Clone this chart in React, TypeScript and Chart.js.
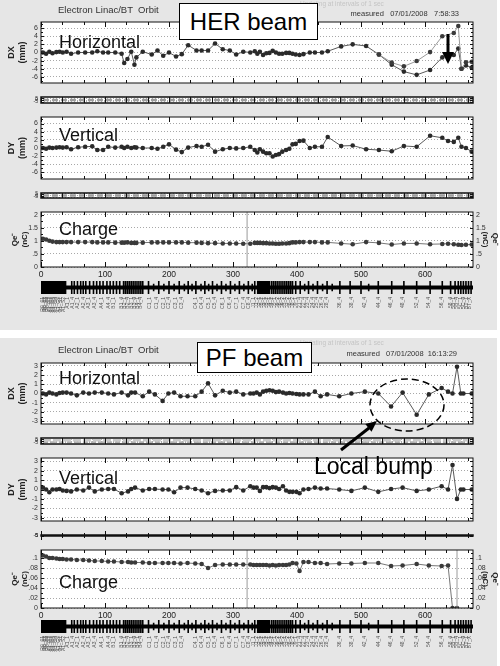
import React, { useEffect, useRef } from "react";
import { Chart, registerables } from "chart.js";
Chart.register(...registerables);

const FONT = "'Liberation Sans', Arial, Helvetica, sans-serif";
const W = 500;
const X_MAX = 675;
const PLOT_RIGHT = 473;

// ---------------- HER beam data ----------------
const HER_S = [3, 8, 13, 18, 24, 29, 34, 40, 47, 58, 69, 80, 88, 97, 105, 116, 126, 130, 135, 141, 146, 149, 159, 173, 182, 191, 200, 211, 220, 230, 243, 251, 261, 272, 284, 295, 305, 316, 327, 334, 338, 342, 347, 352, 357, 362, 367, 372, 377, 383, 388, 393, 398, 404, 410, 420, 428, 439, 448, 469, 487, 508, 528, 548, 567, 587, 608, 627, 636, 645, 652, 657, 664, 673];
const HER_DX = [0, -0.3, 0.2, -0.2, 0.1, 0.2, 0, 0.2, -0.3, 0, 0, 0, 0.3, 0, 0, 0, -0.3, -2.6, -1.6, 0.2, -3.0, -1.2, 0.2, -0.5, 0.5, -0.8, 0, -1.0, -0.4, 1.8, 0.5, 0.5, 0.5, 2.2, 0.8, 0.5, -0.5, 0.2, 0, 0.3, -0.3, 0.2, -0.6, -0.2, -0.1, 0.4, 0, -0.3, -0.3, -0.1, -0.1, -0.3, -0.5, -0.6, -0.4, 0, 0, 0, 0.3, 1.5, 2.0, 1.6, -0.5, -3.0, -4.7, -5.5, -4.3, -1.2, -0.3, -0.6, 1.0, -4.0, -3.2, -3.7];
const HER_DX_ALT_S = [528, 548, 567, 587, 608, 627, 645, 652, 657, 664, 673];
const HER_DX_ALT = [-0.5, -2.5, -3.4, -2.1, 0.1, 4.0, 4.8, 6.5, -4.0, -2.4, -2.3];
const HER_DY = [0, -0.2, 0.1, 0, 0.1, 0.2, 0.1, 0.2, -0.3, 0.2, 0.3, 0.4, -0.5, -0.5, 0.3, 0.1, 0.3, 0, 0.3, 0, 0.2, 0.1, 0, 0, -0.2, 0.3, 0.9, -0.4, -1.0, 0.1, 0.5, 0.3, 0.8, -0.9, -0.3, 0, -0.1, 0, 0.3, -0.5, -1.1, -0.3, -0.9, -1.3, -1.3, -2.1, -1.7, -1.5, -0.9, -0.5, -0.2, 0.9, 1.0, 1.7, 1.8, 0, 0.3, 0.3, 2.7, 0.5, 0.6, -0.3, -0.5, -0.8, 0.5, 0.3, 3.0, 2.5, 1.7, 1.5, 2.5, 0.3, 0, -0.9];
const HER_Q = [1.08, 1.05, 1.0, 0.97, 0.95, 0.95, 0.95, 0.95, 0.95, 0.95, 0.95, 0.95, 0.94, 0.94, 0.94, 0.93, 0.93, 0.93, 0.94, 0.92, 0.92, 0.92, 0.93, 0.94, 0.94, 0.94, 0.94, 0.94, 0.94, 0.93, 0.93, 0.92, 0.91, 0.91, 0.9, 0.9, 0.9, 0.89, 0.89, 0.92, 0.92, 0.92, 0.91, 0.91, 0.9, 0.9, 0.89, 0.89, 0.9, 0.9, 0.91, 0.94, 0.94, 0.95, 0.95, 0.95, 0.95, 0.94, 0.94, 0.9, 0.87, 0.95, 0.92, 0.86, 0.9, 0.9, 0.87, 0.88, 0.89, 0.87, 0.85, 0.84, 0.85, 0.86];

// ---------------- PF beam data ----------------
const PF_S = [3, 8, 13, 18, 24, 29, 34, 40, 47, 56, 66, 75, 84, 95, 105, 114, 126, 136, 141, 147, 159, 169, 178, 190, 199, 208, 218, 229, 241, 251, 261, 272, 284, 295, 305, 316, 327, 332, 337, 342, 347, 352, 357, 362, 367, 372, 378, 383, 388, 393, 399, 404, 410, 418, 428, 437, 447, 466, 485, 506, 527, 547, 565, 587, 606, 626, 636, 643, 650, 656, 660, 673];
const PF_DX = [0, -0.1, 0.1, 0, -0.1, 0.05, 0.1, 0.1, 0, -0.2, 0.1, 0, 0.1, 0.1, 0, -0.1, 0.1, -0.2, 0.1, 0.1, -0.3, 0.2, -0.1, -0.8, 0, 0.1, -0.3, -0.3, -0.3, 0.2, 1.1, -0.2, 0.3, 0.1, 0.2, -0.1, 0, 0, 0.1, -0.1, 0.2, 0.3, 0.35, 0.3, 0.15, 0.2, 0.1, 0, 0.05, 0, -0.05, -0.1, -0.1, -0.1, 0.2, -0.3, -0.1, -0.3, 0, 0.2, 0, -1.4, 0.1, -2.3, -0.1, 0.6, 0.2, 0, 2.9, 0, 0, 0];
const PF_DY = [0.2, 0, -0.3, 0, 0, 0.05, -0.1, -0.15, -0.2, 0, -0.1, 0.2, -0.2, 0, 0.05, 0.05, -0.4, -0.2, 0.05, 0.2, -0.1, 0.05, 0.05, 0, 0, -0.3, 0.2, 0.2, 0.05, -0.1, -0.4, -0.15, -0.1, -0.1, 0.25, -0.1, 0.35, 0.2, 0.2, -0.15, 0.25, 0.25, 0.15, 0.25, 0.2, 0.05, 0.35, -0.1, -0.25, -0.25, -0.25, -0.4, 0, 0.05, 0.2, 0.1, 0.1, 0, -0.15, 0.2, -0.25, 0.05, 0.2, -0.15, 0, 0.35, 0, 2.6, -1.0, 0, 0, 0];
const PF_Q = [0.105, 0.103, 0.1, 0.1, 0.099, 0.098, 0.098, 0.097, 0.097, 0.096, 0.096, 0.095, 0.094, 0.094, 0.093, 0.093, 0.092, 0.092, 0.091, 0.091, 0.091, 0.09, 0.09, 0.09, 0.09, 0.09, 0.089, 0.09, 0.089, 0.088, 0.08, 0.086, 0.087, 0.087, 0.087, 0.087, 0.087, 0.086, 0.086, 0.086, 0.086, 0.086, 0.085, 0.086, 0.085, 0.086, 0.086, 0.086, 0.087, 0.09, 0.089, 0.074, 0.092, 0.092, 0.09, 0.09, 0.088, 0.089, 0.089, 0.09, 0.09, 0.084, 0.085, 0.088, 0.085, 0.084, 0.085, 0, 0, null, null, null];

// ---------------- beamline elements ----------------
const ELEM_TALL = [48, 52, 57, 62, 66, 70, 76, 82, 87, 92, 97, 103, 108, 113, 118, 123, 129, 132, 135, 138, 141, 144, 147, 150, 153, 156, 159, 168, 184, 200, 216, 230, 242, 256, 268, 282, 296, 310, 324, 334, 360, 363, 366, 369, 372, 375, 378, 381, 384, 387, 390, 393, 398, 405, 418, 432, 447, 467, 483, 500, 527, 548, 567, 587, 608, 627, 640, 647, 652, 656, 660, 664, 668, 672];
const ELEM_SHORT = [176, 192, 208, 224, 236, 250, 262, 275, 289, 303, 317, 330, 412, 425, 440, 455, 512];
const ELEM_BLOCKS = [[0, 40], [337, 358]];
const LABEL_S = [2, 5, 8, 11, 14, 17, 20, 23, 27, 31, 36, 42, 50, 58, 66, 75, 84, 95, 105, 114, 126, 131, 136, 141, 146, 151, 156, 170, 181, 191, 200, 210, 220, 241, 251, 262, 272, 284, 295, 305, 316, 325, 333, 337, 341, 345, 349, 353, 357, 361, 365, 369, 373, 377, 381, 385, 389, 393, 398, 404, 410, 417, 424, 431, 438, 447, 466, 485, 506, 527, 547, 565, 587, 606, 626, 640, 645, 650, 655, 660, 665, 670];
const LABEL_NAMES = ["R0_01", "R0_02", "R0_03", "R0_04", "A1_G1", "A1_G2", "A1_G3", "A1_G4", "A1_G5", "A1_S1", "A1_S2", "A1_1", "A1_4", "A2_1", "A2_4", "A3_1", "A3_4", "A4_1", "A4_4", "B1_1", "B1_4", "B2_1", "B2_4", "B3_1", "B3_4", "B4_1", "B4_4", "C1_1", "C1_4", "C2_1", "C2_4", "C3_1", "C3_4", "C4_1", "C4_4", "C5_1", "C5_4", "C6_1", "C6_4", "C7_1", "C7_4", "C8_4", "J1_1", "J1_2", "J2_1", "J2_2", "J3_1", "J3_2", "J4_1", "J4_2", "J5_1", "J5_2", "J6_1", "J6_2", "J7_1", "J7_2", "J8_1", "J8_2", "J9_1", "21_4", "22_4", "23_4", "24_4", "25_4", "26_4", "28_4", "36_4", "38_4", "42_4", "44_4", "46_4", "48_4", "52_4", "54_4", "56_4", "58_4", "5B_1", "5B_4", "5C_1", "5C_4", "BT_1", "BT_X"];

// ---------------- axis ticks ----------------
const X_MAJOR = [0, 100, 200, 300, 400, 500, 600];
const X_MINOR = [33, 67, 133, 167, 233, 267, 333, 367, 433, 467, 533, 567, 633, 667];
const HER_POS_TICKS = [-6, -4, -2, 0, 2, 4, 6];
const HER_POS_MINOR = [-7, -5, -3, -1, 1, 3, 5, 7];
const HER_Q_TICKS = [0, 0.5, 1, 1.5, 2];
const HER_Q_MINOR = [0.25, 0.75, 1.25, 1.75];
const PF_POS_TICKS = [-3, -2, -1, 0, 1, 2, 3];
const PF_POS_MINOR = [-2.5, -1.5, -0.5, 0.5, 1.5, 2.5];
const PF_Q_TICKS = [0, 0.02, 0.04, 0.06, 0.08, 0.1];
const PF_Q_MINOR = [0.01, 0.03, 0.05, 0.07, 0.09, 0.11];
const STRIP_TICKS = [-5, 0, 5];
const HER_QLINES = [322];
const PF_QLINES = [322, 650];

function fmtNum(v: number) {
  if (v === 0) return "0";
  const a = Math.abs(v);
  let s = String(+a.toFixed(3));
  if (a < 1) s = s.replace(/^0/, "");
  return (v < 0 ? "-" : "") + s;
}

const pts = (S: number[], V: (number | null)[]) => S.map((s, i) => ({ x: s, y: V[i] }));
const series = (S: number[], V: (number | null)[], line = "#5a5a5a", dot = "#2a2a2a") => ({
  data: pts(S, V),
  borderColor: line,
  borderWidth: 1,
  pointRadius: 2.3,
  pointBackgroundColor: dot,
  pointBorderWidth: 0,
  tension: 0,
  spanGaps: false,
});
const stripLine = (S: number[], y: number, color: string, w: number, dash: number[]) => ({
  data: S.map((s) => ({ x: s, y })),
  borderColor: color,
  borderWidth: w,
  borderDash: dash,
  pointRadius: 0,
});
const vline = (s: number, top: number) => ({
  data: [{ x: s, y: 0 }, { x: s, y: top }],
  borderColor: "#9a9a9a",
  borderWidth: 1,
  pointRadius: 0,
});

function framePlugin(yMajor: number[], yMinor: number[], lw = 1) {
  return {
    id: "frameTicks",
    beforeDraw(chart: any) {
      const { ctx, chartArea: a } = chart;
      ctx.save();
      ctx.fillStyle = "#ffffff";
      ctx.fillRect(a.left, a.top, a.right - a.left, a.bottom - a.top);
      ctx.restore();
    },
    afterDatasetsDraw(chart: any) {
      const { ctx, chartArea: a, scales } = chart;
      const xs = scales.x;
      const ys = scales.y;
      ctx.save();
      ctx.strokeStyle = "#111";
      ctx.lineWidth = 1;
      ctx.beginPath();
      const vx = (vals: number[], len: number) =>
        vals.forEach((v) => {
          const p = Math.round(xs.getPixelForValue(v)) + 0.5;
          ctx.moveTo(p, a.top);
          ctx.lineTo(p, a.top + len);
          ctx.moveTo(p, a.bottom);
          ctx.lineTo(p, a.bottom - len);
        });
      const hy = (vals: number[], len: number) =>
        vals.forEach((v) => {
          const p = Math.round(ys.getPixelForValue(v)) + 0.5;
          ctx.moveTo(a.left, p);
          ctx.lineTo(a.left + len, p);
          ctx.moveTo(a.right, p);
          ctx.lineTo(a.right - len, p);
        });
      vx(X_MAJOR, 5);
      vx(X_MINOR, 3);
      hy(yMajor, 3);
      hy(yMinor, 2);
      ctx.stroke();
      ctx.lineWidth = lw;
      ctx.strokeRect(a.left, a.top, a.right - a.left, a.bottom - a.top);
      ctx.restore();
    },
  };
}

interface SubOpts {
  PH: number;
  top: number;
  bottom: number;
  yMin: number;
  yMax: number;
  yTicks: number[];
  yMinor: number[];
  title?: string[];
  titlePad?: number;
  titleSize?: number;
  tickSize?: number;
  datasets: any[];
  rightTitle?: string[];
  xLabels?: boolean;
  lw?: number;
}

function yAxis(pos: "left" | "right", o: SubOpts) {
  const left = pos === "left";
  const text = left ? o.title : o.rightTitle;
  return {
    type: "linear",
    position: pos,
    min: o.yMin,
    max: o.yMax,
    afterBuildTicks: (s: any) => {
      s.ticks = o.yTicks.map((v) => ({ value: v }));
    },
    afterFit: (s: any) => {
      s.width = left ? 41 : W - PLOT_RIGHT;
      s.paddingTop = 0;
      s.paddingBottom = 0;
    },
    grid: left ? { color: "#a8a8a8", lineWidth: 1, drawTicks: false } : { display: false, drawTicks: false },
    border: { display: false, dash: [1, 2] },
    ticks: {
      font: { family: FONT, size: o.tickSize || 7 },
      color: "#333",
      padding: 3,
      autoSkip: false,
      callback: (v: number) => fmtNum(v),
    },
    title: text
      ? {
          display: true,
          text,
          font: { family: FONT, size: o.titleSize || 9, weight: "bold" },
          color: "#222",
          padding: { top: left ? (o.titlePad ?? 6) : 0, bottom: 0 },
        }
      : { display: false },
  };
}

function subplot(o: SubOpts) {
  const scales: any = {
    x: {
      type: "linear",
      min: 0,
      max: X_MAX,
      display: !!o.xLabels,
      position: "bottom",
      afterBuildTicks: (s: any) => {
        s.ticks = X_MAJOR.map((v) => ({ value: v }));
      },
      afterFit: (s: any) => {
        s.height = 14;
      },
      grid: { display: false, drawTicks: false },
      border: { display: false },
      ticks: { font: { family: FONT, size: 8.5 }, color: "#222", padding: 3, maxRotation: 0, autoSkip: false },
    },
    y: yAxis("left", o),
  };
  if (o.rightTitle) scales.y2 = yAxis("right", o);
  const padBottom = o.PH - o.bottom - (o.xLabels ? 14 : 0);
  return {
    type: "line",
    data: { datasets: o.datasets },
    options: {
      responsive: false,
      animation: false,
      events: [],
      layout: { padding: { top: o.top, bottom: padBottom, left: 0, right: o.rightTitle ? 0 : W - PLOT_RIGHT } },
      plugins: { legend: { display: false }, tooltip: { enabled: false } },
      scales,
    },
    plugins: [framePlugin(o.yTicks, o.yMinor, o.lw || 1)],
  };
}

function beamline(PH: number, top: number, bottom: number) {
  const segs: any[] = [];
  ELEM_TALL.forEach((s) => segs.push({ x: s, y: -7 }, { x: s, y: 7 }, { x: s, y: null }));
  ELEM_SHORT.forEach((s) => segs.push({ x: s, y: -4 }, { x: s, y: 4 }, { x: s, y: null }));
  const datasets: any[] = [
    { data: [{ x: 0, y: 0 }, { x: X_MAX, y: 0 }], borderColor: "#000", borderWidth: 4, pointRadius: 0 },
    { data: segs, borderColor: "#000", borderWidth: 1.6, pointRadius: 0, spanGaps: false },
    ...ELEM_BLOCKS.map((b) => ({
      data: [{ x: b[0], y: 7 }, { x: b[1], y: 7 }],
      borderWidth: 0,
      pointRadius: 0,
      fill: { value: -7 },
      backgroundColor: "#000",
    })),
  ];
  return {
    type: "line",
    data: { datasets },
    options: {
      responsive: false,
      animation: false,
      events: [],
      layout: { padding: { top, bottom: PH - bottom - 22, left: 41, right: W - PLOT_RIGHT } },
      plugins: { legend: { display: false }, tooltip: { enabled: false } },
      scales: {
        x: {
          type: "linear",
          min: 0,
          max: X_MAX,
          afterBuildTicks: (s: any) => {
            s.ticks = LABEL_S.map((v) => ({ value: v }));
          },
          afterFit: (s: any) => {
            s.height = 22;
          },
          grid: { display: false, drawTicks: false },
          border: { display: false },
          ticks: {
            font: { family: FONT, size: 5 },
            color: "#555",
            padding: 2,
            minRotation: 90,
            maxRotation: 90,
            autoSkip: false,
            callback: (_v: number, i: number) => LABEL_NAMES[i] ?? "",
          },
        },
        y: { type: "linear", min: -8, max: 8, display: false },
      },
    },
  };
}

function ChartCanvas({ config, height }: { config: any; height: number }) {
  const ref = useRef<HTMLCanvasElement>(null);
  useEffect(() => {
    const c = new Chart(ref.current as HTMLCanvasElement, config);
    return () => c.destroy();
  }, []);
  return <canvas ref={ref} width={W} height={height} style={{ position: "absolute", left: 0, top: 0 }} />;
}

const txt = (left: number, top: number, size: number, text: string, color = "#222", extra: any = {}) => (
  <div
    style={{
      position: "absolute",
      left,
      top,
      fontFamily: FONT,
      fontSize: size,
      lineHeight: 1,
      color,
      whiteSpace: "pre",
      ...extra,
    }}
  >
    {text}
  </div>
);

const rtxt = (right: number, top: number, size: number, text: string, color = "#222") => (
  <div
    style={{
      position: "absolute",
      right: W - right,
      top,
      fontFamily: FONT,
      fontSize: size,
      lineHeight: 1,
      color,
      whiteSpace: "pre",
    }}
  >
    {text}
  </div>
);

const stripSub = (PH: number, top: number, bottom: number, lines: any[]) =>
  subplot({
    PH,
    top,
    bottom,
    yMin: -8,
    yMax: 8,
    yTicks: STRIP_TICKS,
    yMinor: [],
    tickSize: 5,
    datasets: lines,
    lw: 1.5,
  });

function HerPanel() {
  const PH = 330;
  const charts = [
    subplot({
      PH, top: 22, bottom: 97, yMin: -7.5, yMax: 7.5, yTicks: HER_POS_TICKS, yMinor: HER_POS_MINOR,
      title: ["DX", "(mm)"],
      datasets: [series(HER_DX_ALT_S, HER_DX_ALT, "#9a9a9a", "#3a3a3a"), series(HER_S, HER_DX)],
    }),
    stripSub(PH, 97, 117, [stripLine(HER_S, 0, "#9c9c9c", 2.5, [6, 3])]),
    subplot({
      PH, top: 117, bottom: 193, yMin: -7.6, yMax: 7.6, yTicks: HER_POS_TICKS, yMinor: HER_POS_MINOR,
      title: ["DY", "(mm)"],
      datasets: [series(HER_S, HER_DY)],
    }),
    stripSub(PH, 193, 212, [stripLine(HER_S, 0, "#9c9c9c", 2.5, [6, 3])]),
    subplot({
      PH, top: 212, bottom: 267, yMin: 0, yMax: 2.1, yTicks: HER_Q_TICKS, yMinor: HER_Q_MINOR,
      title: ["Qe\u207b", "(nC)"], titlePad: 10, titleSize: 8, rightTitle: ["Qe\u207b", "(nC)"], xLabels: true,
      datasets: [...HER_QLINES.map((s) => vline(s, 2.1)), series(HER_S, HER_Q, "#777", "#3a3a3a")],
    }),
    beamline(PH, 280, 295),
  ];
  return (
    <div style={{ position: "absolute", left: 0, top: 0, width: 497, height: PH, background: "#e6e6e6" }}>
      {charts.map((c, i) => (
        <ChartCanvas key={i} config={c} height={PH} />
      ))}
      {txt(58, 5, 9.5, "Electron Linac/BT  Orbit", "#333")}
      {txt(300, 1, 6.5, "Updating at intervals of 1 sec", "#c4c4c4")}
      {rtxt(462, 10, 7.5, "measured   07/01/2008   7:58:33", "#333")}
      {txt(59, 33, 18, "Horizontal", "#111")}
      {txt(59, 126, 18, "Vertical", "#111")}
      {txt(59, 220, 18, "Charge", "#111")}
      <div
        style={{
          position: "absolute", left: 179, top: 3, width: 139, height: 37, boxSizing: "border-box",
          border: "1.5px solid #000", background: "#fff", fontFamily: FONT, fontSize: 24,
          display: "flex", alignItems: "center", justifyContent: "center", color: "#000",
        }}
      >
        HER beam
      </div>
      <svg width={W} height={PH} style={{ position: "absolute", left: 0, top: 0 }}>
        <line x1={448} y1={34} x2={448} y2={54} stroke="#000" strokeWidth={3} />
        <polygon points="442,52 454,52 448,64" fill="#000" />
      </svg>
    </div>
  );
}

function PfPanel() {
  const PH = 328;
  const charts = [
    subplot({
      PH, top: 25, bottom: 100, yMin: -3.3, yMax: 3.3, yTicks: PF_POS_TICKS, yMinor: PF_POS_MINOR,
      title: ["DX", "(mm)"],
      datasets: [series(PF_S, PF_DX)],
    }),
    stripSub(PH, 100, 120, [
      stripLine(PF_S, 2, "#c8c8c8", 2.5, [8, 2]),
      stripLine(PF_S, -3, "#b0b0b0", 2, [5, 3]),
    ]),
    subplot({
      PH, top: 120, bottom: 197, yMin: -3.35, yMax: 3.35, yTicks: PF_POS_TICKS, yMinor: PF_POS_MINOR,
      title: ["DY", "(mm)"],
      datasets: [series(PF_S, PF_DY)],
    }),
    stripSub(PH, 197, 212, [stripLine(PF_S, 0, "#a0a0a0", 2.5, [6, 3])]),
    subplot({
      PH, top: 212, bottom: 270, yMin: 0, yMax: 0.116, yTicks: PF_Q_TICKS, yMinor: PF_Q_MINOR,
      title: ["Qe\u207b", "(nC)"], titlePad: 10, titleSize: 8, rightTitle: ["Qe\u207b", "(nC)"], xLabels: true,
      datasets: [...PF_QLINES.map((s) => vline(s, 0.116)), series(PF_S, PF_Q, "#777", "#3a3a3a")],
    }),
    beamline(PH, 281, 296),
  ];
  return (
    <div style={{ position: "absolute", left: 0, top: 338, width: 497, height: PH, background: "#e6e6e6" }}>
      {charts.map((c, i) => (
        <ChartCanvas key={i} config={c} height={PH} />
      ))}
      {txt(58, 7, 9.5, "Electron Linac/BT  Orbit", "#333")}
      {txt(300, 2, 6.5, "Updating at intervals of 1 sec", "#c4c4c4")}
      {rtxt(460, 12, 7.5, "measured   07/01/2008  16:13:29", "#333")}
      {txt(59, 31, 18, "Horizontal", "#111")}
      {txt(59, 131, 18, "Vertical", "#111")}
      {txt(59, 235, 18, "Charge", "#111")}
      {txt(314, 117, 23, "Local bump", "#000")}
      <div
        style={{
          position: "absolute", left: 197, top: 4, width: 115, height: 31, boxSizing: "border-box",
          border: "1.5px solid #000", background: "#fff", fontFamily: FONT, fontSize: 24,
          display: "flex", alignItems: "center", justifyContent: "center", color: "#000",
        }}
      >
        PF beam
      </div>
      <svg width={W} height={PH} style={{ position: "absolute", left: 0, top: 0 }}>
        <ellipse cx={407} cy={67} rx={37} ry={26} fill="none" stroke="#000" strokeWidth={1.5} strokeDasharray="7 4" />
        <line x1={341} y1={112} x2={369} y2={90} stroke="#000" strokeWidth={3} />
        <polygon points="377,83 371.5,93.8 365.3,86" fill="#000" />
      </svg>
    </div>
  );
}

export default function App() {
  return (
    <div style={{ position: "absolute", left: 0, top: 0, width: W, height: 666, background: "#fff" }}>
      <HerPanel />
      <PfPanel />
    </div>
  );
}
